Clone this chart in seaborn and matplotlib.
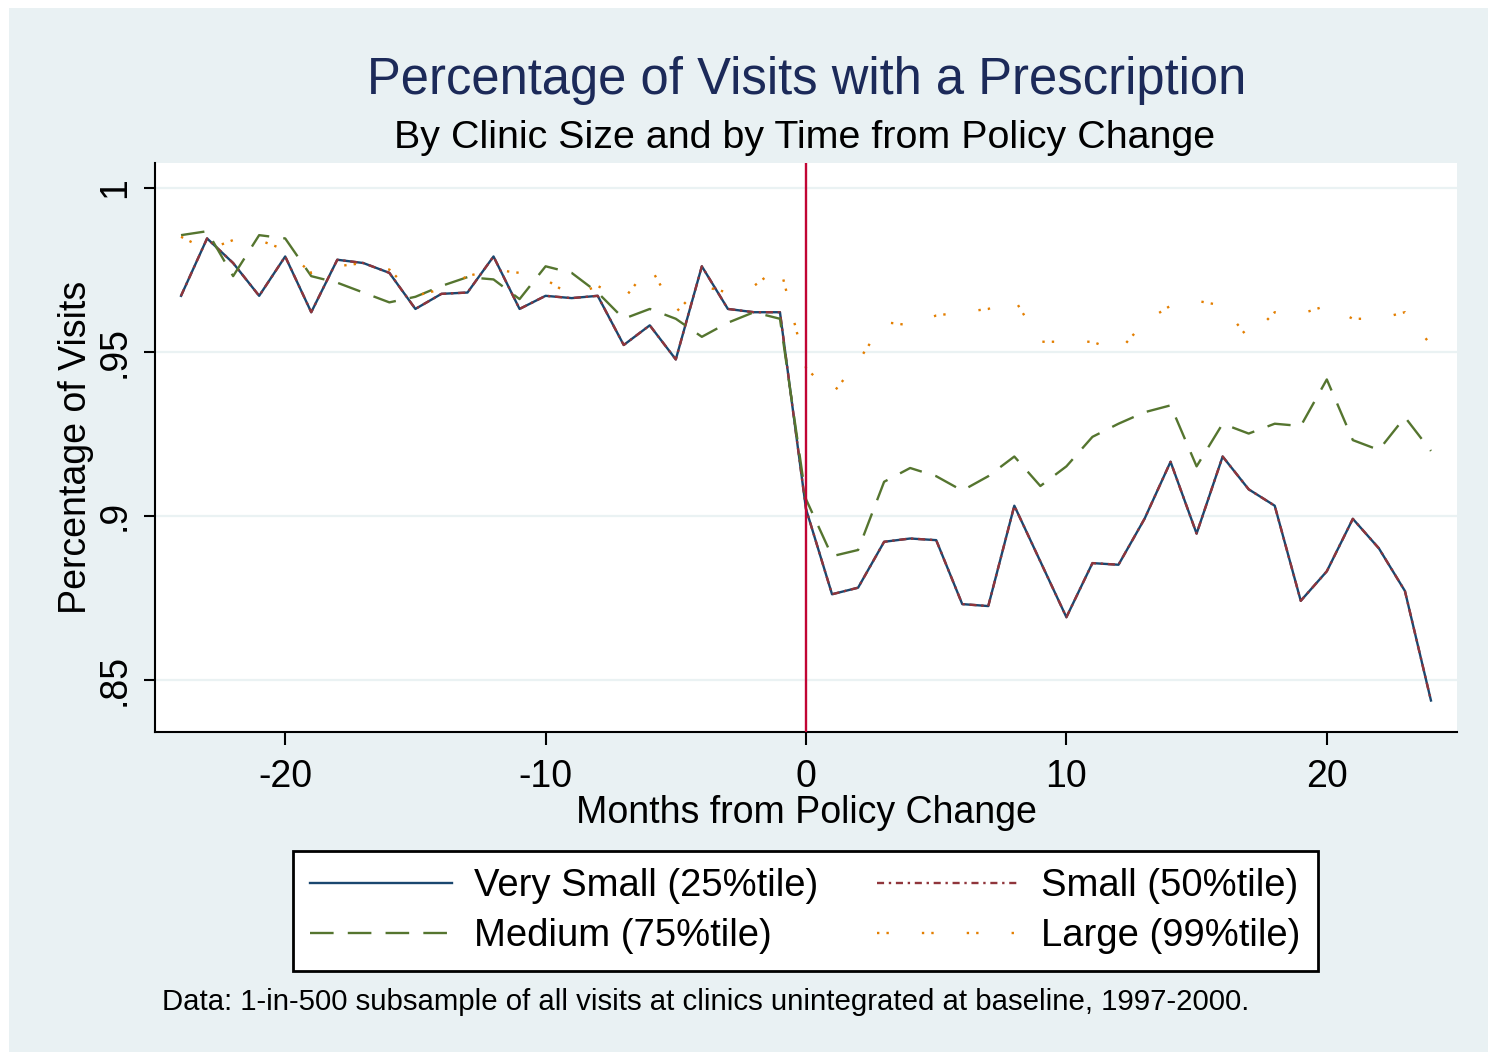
import matplotlib
matplotlib.use("Agg")
import matplotlib.pyplot as plt
from matplotlib.patches import Rectangle
import seaborn as sns
import pandas as pd

# valores (meses -24..24)
months = list(range(-24, 25))

very_small = [0.967, 0.9845, 0.977, 0.967, 0.979, 0.962, 0.978, 0.977, 0.974, 0.963,
              0.9676, 0.968, 0.979, 0.963, 0.967, 0.9663, 0.967, 0.952, 0.958, 0.9476,
              0.976, 0.963, 0.962, 0.962,
              0.902, 0.876, 0.878, 0.892, 0.893, 0.8925, 0.873, 0.8724, 0.903, 0.886,
              0.869, 0.8855, 0.885, 0.899, 0.9164, 0.8945, 0.918, 0.908, 0.903, 0.874,
              0.883, 0.899, 0.890, 0.877, 0.8436]

small = [0.967, 0.9845, 0.977, 0.967, 0.979, 0.962, 0.978, 0.977, 0.974, 0.963,
         0.9676, 0.968, 0.979, 0.963, 0.967, 0.9663, 0.967, 0.952, 0.958, 0.9476,
         0.976, 0.963, 0.962, 0.962,
         0.902, 0.876, 0.878, 0.892, 0.893, 0.8925, 0.873, 0.8724, 0.903, 0.886,
         0.869, 0.8855, 0.885, 0.899, 0.9164, 0.8945, 0.918, 0.908, 0.903, 0.874,
         0.883, 0.899, 0.890, 0.877, 0.8436]

medium = [0.9855, 0.9867, 0.973, 0.9855, 0.9845, 0.973, 0.971, 0.968, 0.965, 0.9667,
          0.970, 0.9727, 0.972, 0.966, 0.976, 0.974, 0.968, 0.960, 0.963, 0.960,
          0.9545, 0.9588, 0.962, 0.960,
          0.905, 0.8876, 0.8895, 0.9103, 0.9145, 0.912, 0.9076, 0.912, 0.918, 0.909,
          0.915, 0.924, 0.928, 0.9315, 0.9336, 0.915, 0.928, 0.925, 0.928, 0.9273,
          0.9415, 0.923, 0.920, 0.930, 0.9197]

large = [0.985, 0.981, 0.984, 0.984, 0.981, 0.974, 0.976, 0.977, 0.975, 0.967,
         0.969, 0.973, 0.975, 0.974, 0.972, 0.967, 0.970, 0.966, 0.976, 0.962,
         0.970, 0.968, 0.970, 0.976,
         0.945, 0.937, 0.947, 0.959, 0.958, 0.961, 0.962, 0.963, 0.966, 0.953,
         0.953, 0.953, 0.950, 0.959, 0.964, 0.9655, 0.964, 0.954, 0.962, 0.9615,
         0.964, 0.960, 0.960, 0.962, 0.952]

labels = ["Very Small (25%tile)", "Small (50%tile)", "Medium (75%tile)", "Large (99%tile)"]
yticks = [0.85, 0.9, 0.95, 1.0]
ytick_labels = [".85", ".9", ".95", "1"]
xticks = [-20, -10, 0, 10, 20]

df = pd.DataFrame({"month": months, "vs": very_small, "s": small, "m": medium, "l": large})

plt.rcParams["font.family"] = ["Liberation Sans", "DejaVu Sans"]
plt.rcParams["axes.unicode_minus"] = False

W, H = 1488, 1052
bg = "#E9F1F3"
fig = plt.figure(figsize=(W / 100, H / 100), dpi=100, facecolor="white")
fig.patches.append(Rectangle((9 / W, 0), 1 - 9 / W, 1 - 8 / H, transform=fig.transFigure,
                             facecolor=bg, edgecolor="none", zorder=-10))

ax = fig.add_axes([155 / W, 1 - 732 / H, (1457 - 155) / W, (732 - 163) / H])
ax.set_facecolor("white")

# series
sns.lineplot(data=df, x="month", y="vs", ax=ax, color="#1A476F", lw=1.7,
             linestyle="-", label=labels[0])
sns.lineplot(data=df, x="month", y="s", ax=ax, color="#90353B", lw=1.7,
             linestyle=(0, (3, 2, 1, 2)), label=labels[1])
sns.lineplot(data=df, x="month", y="m", ax=ax, color="#55752F", lw=1.7,
             linestyle=(0, (10, 6)), label=labels[2])
sns.lineplot(data=df, x="month", y="l", ax=ax, color="#E37E00", lw=1.7,
             linestyle=(0, (1, 3, 1, 14)), label=labels[3])

ax.axvline(0, color="#C10534", lw=1.7, zorder=5)

ax.set_xlim(-25, 25)
ax.set_ylim(0.834, 1.0075)
ax.set_xticks(xticks)
ax.set_yticks(yticks)
ax.set_yticklabels(ytick_labels)
ax.tick_params(axis="x", length=9.5, width=1.5, pad=10, labelsize=27)
ax.tick_params(axis="y", length=8, width=1.5, pad=8, labelsize=27, labelrotation=90)
for t in ax.get_yticklabels():
    t.set_va("center")

ax.yaxis.grid(True, color="#EAF2F3", lw=1.6)
ax.xaxis.grid(False)
ax.set_axisbelow(True)
for s in ["top", "right"]:
    ax.spines[s].set_visible(False)
for s in ["left", "bottom"]:
    ax.spines[s].set_linewidth(1.5)
    ax.spines[s].set_color("black")

ax.set_xlabel("Months from Policy Change", fontsize=27, labelpad=0)
ax.set_ylabel("Percentage of Visits", fontsize=27, labelpad=2)

fig.text(807 / W, 1 - 94 / H, "Percentage of Visits with a Prescription", fontsize=36.5,
         color="#1C2A59", ha="center", va="baseline")
fig.text(805 / W, 1 - 148 / H, "By Clinic Size and by Time from Policy Change", fontsize=28.4,
         color="black", ha="center", va="baseline")

# leyenda: fila 1 Very Small / Small, fila 2 Medium / Large
handles, labs = ax.get_legend_handles_labels()
ax.get_legend().remove()
order = [0, 2, 1, 3]
leg = fig.legend([handles[i] for i in order], [labs[i] for i in order], ncol=2,
                 loc="upper left", bbox_to_anchor=(293 / W, 1 - 966 / H, 1025 / W, 115 / H),
                 mode="expand", borderaxespad=0, fontsize=27.5, frameon=True, fancybox=False,
                 edgecolor="black", framealpha=1, handlelength=3.7, handletextpad=0.6,
                 labelspacing=0.36, borderpad=0.45)
leg.get_frame().set_linewidth(2)

fig.text(162 / W, 1 - 1010 / H,
         "Data: 1-in-500 subsample of all visits at clinics unintegrated at baseline, 1997-2000.",
         fontsize=21.2, ha="left", va="baseline")

fig.savefig("out.png", dpi=100, facecolor="white")
